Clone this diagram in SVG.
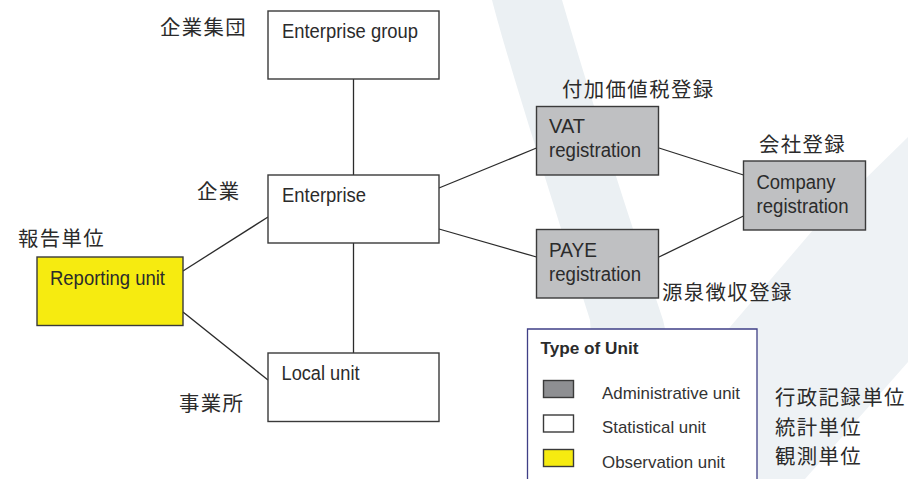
<svg xmlns="http://www.w3.org/2000/svg" width="908" height="479" viewBox="0 0 908 479">
<style>
.box{stroke:#3a3a3a;stroke-width:1.4}
.s{fill:#fff}.a{fill:#bfc0c2}.o{fill:#f6eb10}
.t{font-family:"Liberation Sans",Arial,sans-serif;font-size:20px;fill:#2b2b2b}
.l{font-family:"Liberation Sans",Arial,sans-serif;font-size:17px;fill:#333}
.h{font-family:"Liberation Sans",Arial,sans-serif;font-size:17px;font-weight:700;fill:#2b2b2b}
.j{font-family:"Noto Sans CJK JP","Noto Sans CJK SC",sans-serif;font-size:20.4px;fill:#2b2b2b;letter-spacing:1.4px}
.c line{stroke:#2b2b2b;stroke-width:1.3}
</style>
<g id="background">
<rect width="908" height="479" fill="#fff"/>
<path d="M492 0C505 50 530 130 590 320L600 479H700L663 320C640 250 600 130 562 0Z" fill="#ebf0f3"/>
<path d="M908 137L813 230L730 327L640 479H805L908 362Z" fill="#eef2f5"/>
</g>
<g id="connectors" class="c">
<line x1="353.500" y1="79" x2="353.500" y2="175"/>
<line x1="353.500" y1="243" x2="353.500" y2="353"/>
<line x1="183" y1="271" x2="268" y2="217"/>
<line x1="183" y1="312" x2="268" y2="380"/>
<line x1="439" y1="188" x2="536.500" y2="148"/>
<line x1="439" y1="229" x2="536.500" y2="257"/>
<line x1="659" y1="148" x2="743.500" y2="175"/>
<line x1="659" y1="257" x2="743.500" y2="216"/>
</g>
<g id="enterprise-group"><rect class="box s" x="268" y="11" width="171" height="68"/><text class="t" x="282" y="38" textLength="136" lengthAdjust="spacingAndGlyphs">Enterprise group</text><text class="j" x="160" y="35">企業集団</text></g>
<g id="enterprise"><rect class="box s" x="268" y="175" width="171" height="68"/><text class="t" x="282" y="202" textLength="84" lengthAdjust="spacingAndGlyphs">Enterprise</text><text class="j" x="197" y="199">企業</text></g>
<g id="local-unit"><rect class="box s" x="268" y="353" width="171" height="68.500"/><text class="t" x="281.500" y="380" textLength="78" lengthAdjust="spacingAndGlyphs">Local unit</text><text class="j" x="179" y="411">事業所</text></g>
<g id="reporting-unit"><rect class="box o" x="37" y="257" width="146" height="68.500"/><text class="t" x="50" y="285" textLength="115" lengthAdjust="spacingAndGlyphs">Reporting unit</text><text class="j" x="18" y="246">報告単位</text></g>
<g id="vat"><rect class="box a" x="536.500" y="106.500" width="122" height="68.500"/><text class="t" x="549" y="133" textLength="36" lengthAdjust="spacingAndGlyphs">VAT</text><text class="t" x="549" y="157" textLength="92" lengthAdjust="spacingAndGlyphs">registration</text><text class="j" x="562" y="97">付加価値税登録</text></g>
<g id="paye"><rect class="box a" x="536.500" y="229.500" width="122" height="68.500"/><text class="t" x="549" y="257" textLength="48" lengthAdjust="spacingAndGlyphs">PAYE</text><text class="t" x="549" y="281" textLength="92" lengthAdjust="spacingAndGlyphs">registration</text><text class="j" x="662" y="300">源泉徴収登録</text></g>
<g id="company"><rect class="box a" x="743.500" y="161" width="122" height="69"/><text class="t" x="756.500" y="189" textLength="79" lengthAdjust="spacingAndGlyphs">Company</text><text class="t" x="756.500" y="213" textLength="92" lengthAdjust="spacingAndGlyphs">registration</text><text class="j" x="759" y="152">会社登録</text></g>
<g id="legend">
<path d="M527.500 479V329H757V479" fill="#fff" stroke="#3f3f86" stroke-width="1.3"/>
<text class="h" x="540.500" y="354" textLength="98" lengthAdjust="spacingAndGlyphs">Type of Unit</text>
<rect class="box" x="543.500" y="380.500" width="30" height="17" fill="#8e8f92"/>
<rect class="box s" x="543.500" y="415" width="30" height="17"/>
<rect class="box o" x="543.500" y="449.500" width="30" height="17"/>
<text class="l" x="602" y="399" textLength="138" lengthAdjust="spacingAndGlyphs">Administrative unit</text>
<text class="l" x="602" y="433" textLength="104" lengthAdjust="spacingAndGlyphs">Statistical unit</text>
<text class="l" x="602" y="468" textLength="123" lengthAdjust="spacingAndGlyphs">Observation unit</text>
<text class="j" x="775" y="404.500">行政記録単位</text>
<text class="j" x="775" y="435">統計単位</text>
<text class="j" x="775" y="464">観測単位</text>
</g>
</svg>
